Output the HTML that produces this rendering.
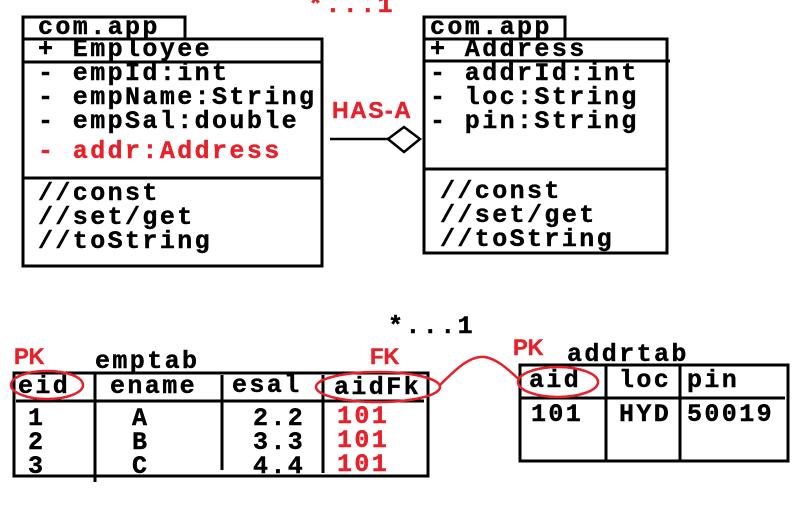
<!DOCTYPE html>
<html><head><meta charset="utf-8"><style>
html,body{margin:0;padding:0;background:#fff;}
svg{display:block}
text{font-family:"Liberation Mono",monospace;font-weight:bold;font-size:25px;letter-spacing:2.4px;fill:#000;stroke:#000;stroke-width:0.4px}
.r{fill:#e8202a;stroke:#e8202a}
.s{font-family:"Liberation Sans",sans-serif;letter-spacing:0;font-size:22px}
</style></head><body>
<svg width="796" height="523" viewBox="0 0 796 523">
<g fill="none" stroke="#000" stroke-width="3">
<rect x="23" y="17" width="162" height="22"/>
<rect x="23" y="39" width="299" height="227"/>
<line x1="23" y1="62" x2="322" y2="62"/>
<line x1="23" y1="178" x2="322" y2="178"/>
<rect x="424" y="17" width="141" height="22"/>
<rect x="424" y="39" width="243" height="214"/>
<line x1="424" y1="61" x2="670" y2="61"/>
<line x1="424" y1="169" x2="667" y2="169"/>
<line x1="330" y1="139" x2="388" y2="139" stroke-width="2.5"/>
<polygon points="388,139 404,127 420,139 404,152" stroke-width="2.5"/>
</g>
<text x="38" y="34">com.app</text>
<text x="38" y="56">+ Employee</text>
<text x="38" y="80">- empId:int</text>
<text x="38" y="104">- empName:String</text>
<text x="38" y="128">- empSal:double</text>
<text x="38" y="158" class="r">- addr:Address</text>
<text x="38" y="200">//const</text>
<text x="38" y="224">//set/get</text>
<text x="38" y="248">//toString</text>
<text x="430" y="34">com.app</text>
<text x="430" y="56">+ Address</text>
<text x="430" y="80">- addrId:int</text>
<text x="430" y="104">- loc:String</text>
<text x="430" y="128">- pin:String</text>
<text x="440" y="198">//const</text>
<text x="440" y="222">//set/get</text>
<text x="440" y="246">//toString</text>
<text x="308" y="12" class="r">*...1</text>
<text x="332" y="118" class="r s" style="letter-spacing:1.5px;font-size:23px">HAS-A</text>

<text x="388" y="333">*...1</text>
<text x="14" y="364" class="r s">PK</text>
<text x="95" y="368">emptab</text>
<text x="370" y="364" class="r s">FK</text>
<text x="513" y="355" class="r s">PK</text>
<text x="567" y="361">addrtab</text>
<g fill="none" stroke="#000" stroke-width="3">
<rect x="14" y="373" width="414" height="103"/>
<line x1="16" y1="401" x2="424" y2="401"/>
<line x1="95" y1="373" x2="95" y2="482"/>
<line x1="222" y1="375" x2="222" y2="470"/>
<line x1="323" y1="375" x2="323" y2="473"/>
<rect x="520" y="365" width="268" height="96"/>
<line x1="520" y1="398" x2="785" y2="398"/>
<line x1="606" y1="365" x2="606" y2="461"/>
<line x1="680" y1="365" x2="680" y2="461"/>
</g>
<text x="18" y="393">eid</text>
<text x="110" y="393">ename</text>
<text x="232" y="392">esal</text>
<text x="334" y="394">aidFk</text>
<text x="28" y="425">1</text><text x="132" y="425">A</text><text x="253" y="425">2.2</text><text x="337" y="423" class="r">101</text>
<text x="28" y="449">2</text><text x="132" y="449">B</text><text x="253" y="449">3.3</text><text x="337" y="447" class="r">101</text>
<text x="28" y="473">3</text><text x="132" y="473">C</text><text x="253" y="473">4.4</text><text x="337" y="471" class="r">101</text>
<text x="529" y="387">aid</text>
<text x="619" y="387">loc</text>
<text x="687" y="387">pin</text>
<text x="531" y="421">101</text>
<text x="619" y="421">HYD</text>
<text x="687" y="421">50019</text>
<g fill="none" stroke="#e8202a" stroke-width="2.5">
<ellipse cx="47" cy="385" rx="36" ry="14"/>
<ellipse cx="378" cy="387" rx="62" ry="15"/>
<ellipse cx="558" cy="382" rx="40" ry="15"/>
<path d="M440,385 C455,370 470,355 485,357 C500,360 510,372 520,380"/>
</g>
</svg>
</body></html>
